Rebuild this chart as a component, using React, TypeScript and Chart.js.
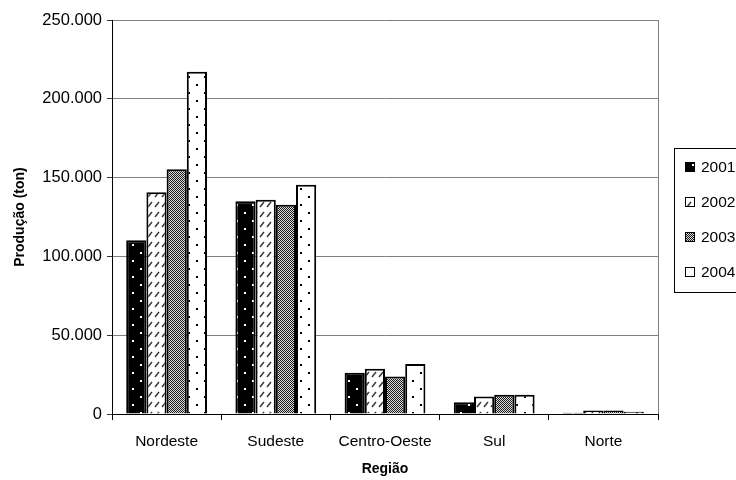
import React, { useEffect, useRef } from "react";
import { Chart, registerables } from "chart.js";

Chart.register(...registerables);

const categories = ["Nordeste", "Sudeste", "Centro-Oeste", "Sul", "Norte"];
const years = ["2001", "2002", "2003", "2004"];
const s2001 = [110300, 135000, 26100, 7500, 800];
const s2002 = [140700, 135900, 28700, 11100, 2200];
const s2003 = [155300, 132700, 23800, 12200, 2200];
const s2004 = [217100, 145400, 31800, 12200, 1400];
const yMin = 0;
const yMax = 250000;
const yStep = 50000;
const xTitle = "Região";
const yTitle = "Produção (ton)";

const FONT = "'Liberation Sans', Arial, sans-serif";

function makeTile(w: number, h: number, draw: (c: CanvasRenderingContext2D) => void) {
  const cv = document.createElement("canvas");
  cv.width = w;
  cv.height = h;
  const c = cv.getContext("2d") as CanvasRenderingContext2D;
  draw(c);
  return cv;
}

function makePatterns(ctx: CanvasRenderingContext2D) {
  const p1 = makeTile(16, 16, (c) => {
    c.fillStyle = "#000";
    c.fillRect(0, 0, 16, 16);
    c.fillStyle = "#fff";
    c.fillRect(4, 4, 2, 2);
    c.fillRect(12, 12, 2, 2);
  });
  const p2 = makeTile(7, 10, (c) => {
    c.fillStyle = "#fff";
    c.fillRect(0, 0, 7, 10);
    c.strokeStyle = "#333";
    c.lineWidth = 1.4;
    c.beginPath();
    c.moveTo(1, 7);
    c.lineTo(5, 2);
    c.stroke();
  });
  const p3 = makeTile(2, 2, (c) => {
    c.fillStyle = "#dcdcdc";
    c.fillRect(0, 0, 2, 2);
    c.fillStyle = "#1a1a1a";
    c.fillRect(0, 0, 1, 1);
    c.fillRect(1, 1, 1, 1);
  });
  const p4 = makeTile(16, 16, (c) => {
    c.fillStyle = "#fff";
    c.fillRect(0, 0, 16, 16);
    c.fillStyle = "#000";
    c.fillRect(4, 4, 2, 2);
    c.fillRect(12, 12, 2, 2);
  });
  return [p1, p2, p3, p4].map((t) => ctx.createPattern(t, "repeat") as CanvasPattern);
}

function fmt(v: number) {
  return String(v).replace(/\B(?=(\d{3})+(?!\d))/g, ".");
}

export default function App() {
  const ref = useRef<HTMLCanvasElement | null>(null);

  useEffect(() => {
    document.body.style.margin = "0";
    const canvas = ref.current;
    if (!canvas) return;
    const ctx = canvas.getContext("2d") as CanvasRenderingContext2D;
    const patterns = makePatterns(ctx);
    const series = [s2001, s2002, s2003, s2004];

    const frame = {
      id: "frame",
      afterDraw(chart: any) {
        const c = chart.ctx as CanvasRenderingContext2D;
        const a = chart.chartArea;
        c.save();
        c.strokeStyle = "#808080";
        c.lineWidth = 1;
        c.beginPath();
        c.moveTo(Math.round(a.right) + 0.5, a.top);
        c.lineTo(Math.round(a.right) + 0.5, a.bottom);
        c.stroke();
        // legend
        c.strokeStyle = "#000";
        c.strokeRect(674.5, 148.5, 80, 144);
        c.font = `15.5px ${FONT}`;
        c.textBaseline = "middle";
        c.textAlign = "left";
        chart.data.datasets.forEach((ds: any, i: number) => {
          const y = 167 + i * 35;
          c.fillStyle = ds.backgroundColor;
          c.fillRect(685, y - 5, 10, 10);
          c.strokeStyle = "#000";
          c.lineWidth = 1;
          c.strokeRect(685.5, y - 4.5, 9, 9);
          c.fillStyle = "#000";
          c.fillText(ds.label, 701, y + 1);
        });
        c.restore();
      },
    };

    const chart = new Chart(canvas, {
      type: "bar",
      data: {
        labels: categories,
        datasets: years.map((yr, i) => ({
          label: yr,
          data: series[i],
          backgroundColor: patterns[i] as any,
          borderColor: "#000",
          borderWidth: 2,
          categoryPercentage: 0.74,
          barPercentage: 1,
        })),
      },
      options: {
        animation: false,
        responsive: false,
        layout: { padding: { top: 20, right: 78, bottom: 0, left: 0 } },
        plugins: { legend: { display: false }, tooltip: { enabled: false } },
        scales: {
          x: {
            afterFit: (s: any) => {
              s.height = 66;
            },
            grid: {
              offset: true,
              drawOnChartArea: false,
              drawTicks: true,
              tickLength: 6,
              tickColor: "#000",
            },
            border: { color: "#000", width: 1 },
            ticks: {
              color: "#000",
              font: { family: FONT, size: 15.5 },
              padding: 12,
              maxRotation: 0,
            },
            title: {
              display: true,
              text: xTitle,
              color: "#000",
              font: { family: FONT, size: 14, weight: "bold" },
              padding: { top: 0, bottom: 2 },
            },
          },
          y: {
            min: yMin,
            max: yMax,
            afterFit: (s: any) => {
              s.width = 112;
            },
            grid: {
              color: "#808080",
              lineWidth: 1,
              tickLength: 5,
              tickColor: "#333",
            },
            border: { color: "#000", width: 1 },
            ticks: {
              stepSize: yStep,
              color: "#000",
              font: { family: FONT, size: 16.5 },
              padding: 5,
              callback: (v: any) => fmt(Number(v)),
            },
            title: {
              display: true,
              text: yTitle,
              color: "#000",
              font: { family: FONT, size: 14, weight: "bold" },
              padding: { top: 12, bottom: 0 },
            },
          },
        },
      },
      plugins: [frame],
    } as any);

    return () => chart.destroy();
  }, []);

  return (
    <div style={{ width: 736, height: 480 }}>
      <canvas ref={ref} width={736} height={480} style={{ display: "block" }} />
    </div>
  );
}
